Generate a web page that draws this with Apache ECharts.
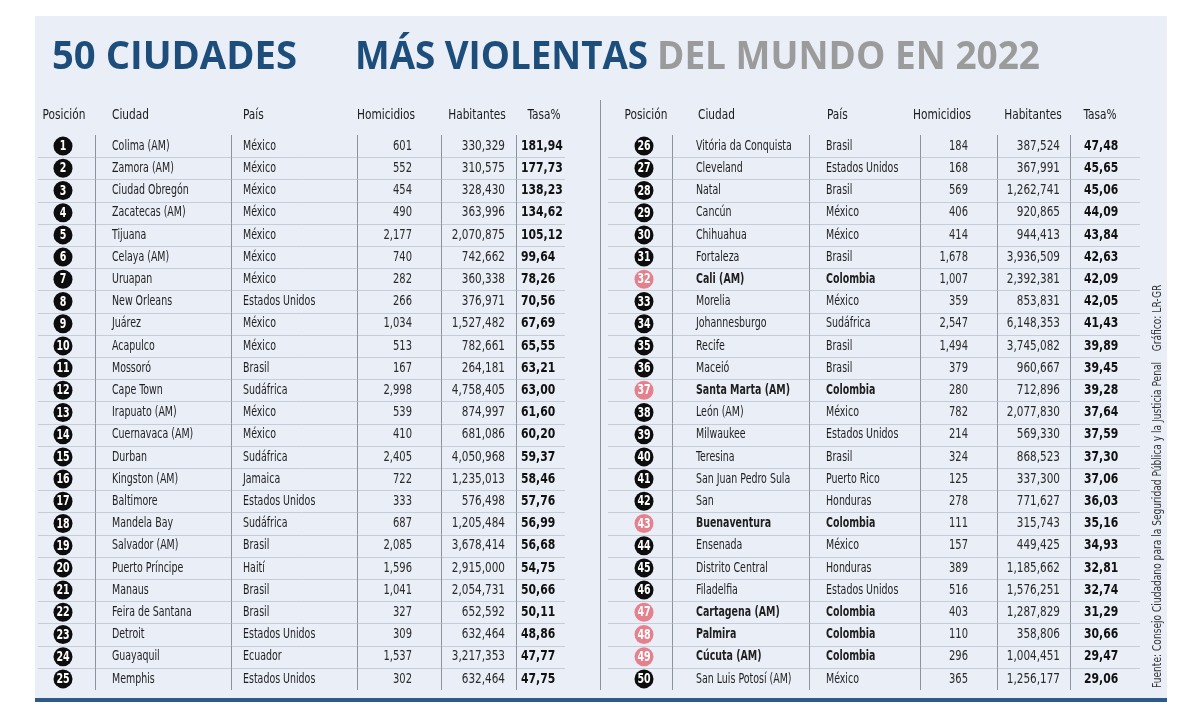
<!DOCTYPE html>
<html><head><meta charset="utf-8">
<script src="https://cdn.jsdelivr.net/npm/echarts@6/dist/echarts.min.js"></script>
<style>html,body{margin:0;padding:0;background:#fff}#c{width:1200px;height:720px}</style>
</head><body><div id="c"></div>
<script>
// ---------- DATA ----------
const ranks = [1,2,3,4,5,6,7,8,9,10,11,12,13,14,15,16,17,18,19,20,21,22,23,24,25,
  26,27,28,29,30,31,32,33,34,35,36,37,38,39,40,41,42,43,44,45,46,47,48,49,50];
const cities = ['Colima (AM)','Zamora (AM)','Ciudad Obregón','Zacatecas (AM)','Tijuana','Celaya (AM)','Uruapan','New Orleans','Juárez','Acapulco',
  'Mossoró','Cape Town','Irapuato (AM)','Cuernavaca (AM)','Durban','Kingston (AM)','Baltimore','Mandela Bay','Salvador (AM)','Puerto Príncipe',
  'Manaus','Feira de Santana','Detroit','Guayaquil','Memphis',
  'Vitória da Conquista','Cleveland','Natal','Cancún','Chihuahua','Fortaleza','Cali (AM)','Morelia','Johannesburgo','Recife',
  'Maceió','Santa Marta (AM)','León (AM)','Milwaukee','Teresina','San Juan Pedro Sula','San','Buenaventura','Ensenada','Distrito Central',
  'Filadelfia','Cartagena (AM)','Palmira','Cúcuta (AM)','San Luis Potosí (AM)'];
const countries = ['México','México','México','México','México','México','México','Estados Unidos','México','México',
  'Brasil','Sudáfrica','México','México','Sudáfrica','Jamaica','Estados Unidos','Sudáfrica','Brasil','Haití',
  'Brasil','Brasil','Estados Unidos','Ecuador','Estados Unidos',
  'Brasil','Estados Unidos','Brasil','México','México','Brasil','Colombia','México','Sudáfrica','Brasil',
  'Brasil','Colombia','México','Estados Unidos','Brasil','Puerto Rico','Honduras','Colombia','México','Honduras',
  'Estados Unidos','Colombia','Colombia','Colombia','México'];
const homicides = [601,552,454,490,2177,740,282,266,1034,513,
  167,2998,539,410,2405,722,333,687,2085,1596,
  1041,327,309,1537,302,
  184,168,569,406,414,1678,1007,359,2547,1494,
  379,280,782,214,324,125,278,111,157,389,
  516,403,110,296,365];
const inhabitants = [330329,310575,328430,363996,2070875,742662,360338,376971,1527482,782661,
  264181,4758405,874997,681086,4050968,1235013,576498,1205484,3678414,2915000,
  2054731,652592,632464,3217353,632464,
  387524,367991,1262741,920865,944413,3936509,2392381,853831,6148353,3745082,
  960667,712896,2077830,569330,868523,337300,771627,315743,449425,1185662,
  1576251,1287829,358806,1004451,1256177];
const rates = [181.94,177.73,138.23,134.62,105.12,99.64,78.26,70.56,67.69,65.55,
  63.21,63.00,61.60,60.20,59.37,58.46,57.76,56.99,56.68,54.75,
  50.66,50.11,48.86,47.77,47.75,
  47.48,45.65,45.06,44.09,43.84,42.63,42.09,42.05,41.43,39.89,
  39.45,39.28,37.64,37.59,37.30,37.06,36.03,35.16,34.93,32.81,
  32.74,31.29,30.66,29.47,29.06];
const headers = ['Posición','Ciudad','País','Homicidios','Habitantes','Tasa%'];
const titleParts = ['50 CIUDADES','MÁS VIOLENTAS','DEL MUNDO EN 2022'];
const sourceText = 'Fuente: Consejo Ciudadano para la Seguridad Pública y la Justicia Penal';
const creditText = 'Gráfico: LR-GR';
const highlightCountry = 'Colombia';
const rowsPerTable = 25;

// ---------- STYLE / LAYOUT ----------
const FONT = '"DejaVu Sans Condensed", "Liberation Sans Narrow", "Roboto", sans-serif';
const TITLE_FONT = '"Open Sans", "Lato", sans-serif';
const BLUE = '#1d4e7b', GREY = '#9b9b9b';
const layouts = [
  {left:35, width:545, circle:28, city:77, country:208, hom:377, hab:470, tasa:486, vlines:[60,196,322,406,481], h0:3, h1:530,
   hdr:[[64,'center'],[112,'left'],[243,'left'],[386,'center'],[477,'center'],[544,'center']]},
  {left:605, width:545, circle:39, city:91, country:221, hom:363, hab:455, tasa:479, vlines:[67,204,315,392,465], h0:3, h1:535,
   hdr:[[646,'center'],[698,'left'],[827,'left'],[942,'center'],[1033,'center'],[1100,'center']]}
];

const fmtInt = n => n.toLocaleString('en-US');
const fmtRate = r => r.toFixed(2).replace('.', ',');
const px = v => Math.round(v) + 0.5;

function txt(x, y, s, align, weight, size, color, sx) {
  return {type:'text', x:x, y:y, scaleX:sx,
    style:{text:s, x:0, y:0, align:align, verticalAlign:'middle', textAlign:align, textVerticalAlign:'middle',
      fontFamily:FONT, fontWeight:weight, fontSize:size, fill:color}};
}

function makeRender(L) {
  return function (params, api) {
    const row = api.value(1), g = api.value(2);
    const y = api.coord([0, row])[1];
    const bh = api.size([0, 1])[1];
    const X = v => api.coord([v, row])[0];
    const hi = countries[g] === highlightCountry;
    const ch = [];
    if (row > 0) ch.push({type:'line', shape:{x1:X(L.h0), y1:px(y - bh/2), x2:X(L.h1), y2:px(y - bh/2)}, style:{stroke:'#c7cdd8', lineWidth:1}});
    L.vlines.forEach(v => ch.push({type:'line', shape:{x1:px(X(v)), y1:y - bh/2, x2:px(X(v)), y2:y + bh/2}, style:{stroke:'#8d939d', lineWidth:1}}));
    ch.push({type:'circle', shape:{cx:X(L.circle), cy:y, r:9.5}, style:{fill: hi ? '#e5808d' : '#0d0d0d'}});
    ch.push(txt(X(L.circle), y + 0.5, String(ranks[g]), 'center', 'bold', 13.5, '#fff', 0.78));
    ch.push(txt(X(L.city), y, cities[g], 'left', hi ? 'bold' : 'normal', 14, '#1e1e1e', 0.75));
    ch.push(txt(X(L.country), y, countries[g], 'left', hi ? 'bold' : 'normal', 14, '#1e1e1e', 0.75));
    ch.push(txt(X(L.hom), y, fmtInt(homicides[g]), 'right', 'normal', 14, '#2a2a2a', 0.79));
    ch.push(txt(X(L.hab), y, fmtInt(inhabitants[g]), 'right', 'normal', 14, '#2a2a2a', 0.83));
    ch.push(txt(X(L.tasa), y, fmtRate(rates[g]), 'left', 'bold', 14.5, '#111', 0.83));
    return {type:'group', children:ch};
  };
}

// title width fitting
const cv = document.createElement('canvas').getContext('2d');
function fitScale(s, size, target) { cv.font = 'bold ' + size + 'px ' + TITLE_FONT; return target / cv.measureText(s).width; }
const titleSpec = [[titleParts[0], 52, 297, BLUE], [titleParts[1], 355, 648, BLUE], [titleParts[2], 657, 1040, GREY]];

const graphics = [
  {type:'rect', z:-10, shape:{x:35, y:16, width:1132, height:684}, style:{fill:'#e9eef7'}},
  {type:'rect', z:-9, shape:{x:35, y:698, width:1132, height:4}, style:{fill:'#2d5a87'}},
  {type:'line', z:-8, shape:{x1:600.5, y1:100, x2:600.5, y2:690}, style:{stroke:'#8d939d', lineWidth:1}}
];
titleSpec.forEach(t => {
  const size = 40;
  graphics.push({type:'text', x:t[1], y:58, scaleX:fitScale(t[0], size, t[2] - t[1]),
    style:{text:t[0], align:'left', verticalAlign:'middle', textAlign:'left', textVerticalAlign:'middle',
      fontFamily:TITLE_FONT, fontWeight:'bold', fontSize:size, fill:t[3]}});
});
layouts.forEach(L => L.hdr.forEach((h, i) => {
  graphics.push({type:'text', x:h[0], y:115, scaleX:0.84, style:{text:headers[i], align:h[1], verticalAlign:'middle', textAlign:h[1], textVerticalAlign:'middle',
    fontFamily:FONT, fontSize:14, fill:'#1a1a1a'}});
}));
graphics.push({type:'text', x:1158, y:525, rotation:Math.PI/2, scaleX:0.88, style:{text:sourceText, align:'center', verticalAlign:'middle', textAlign:'center', textVerticalAlign:'middle', fontFamily:FONT, fontSize:11.5, fill:'#333'}});
graphics.push({type:'text', x:1158, y:318, rotation:Math.PI/2, scaleX:0.88, style:{text:creditText, align:'center', verticalAlign:'middle', textAlign:'center', textVerticalAlign:'middle', fontFamily:FONT, fontSize:11.5, fill:'#333'}});

const grids = layouts.map(L => ({left:L.left, width:L.width, top:135, height:555}));
const xAxes = layouts.map((L, i) => ({type:'value', gridIndex:i, min:0, max:L.width, show:false}));
const yAxes = layouts.map((L, i) => ({type:'category', gridIndex:i, inverse:true, show:false,
  data: ranks.slice(i * rowsPerTable, (i + 1) * rowsPerTable).map(String)}));
const series = layouts.map((L, i) => ({
  type:'custom', xAxisIndex:i, yAxisIndex:i, renderItem:makeRender(L), silent:true,
  encode:{x:0, y:1},
  data: ranks.slice(i * rowsPerTable, (i + 1) * rowsPerTable).map((r, k) => [0, k, i * rowsPerTable + k])
}));

const chart = echarts.init(document.getElementById('c'), null, {renderer:'canvas'});
chart.setOption({backgroundColor:'#ffffff', animation:false, grid:grids, xAxis:xAxes, yAxis:yAxes, series:series, graphic:graphics});
</script></body></html>
